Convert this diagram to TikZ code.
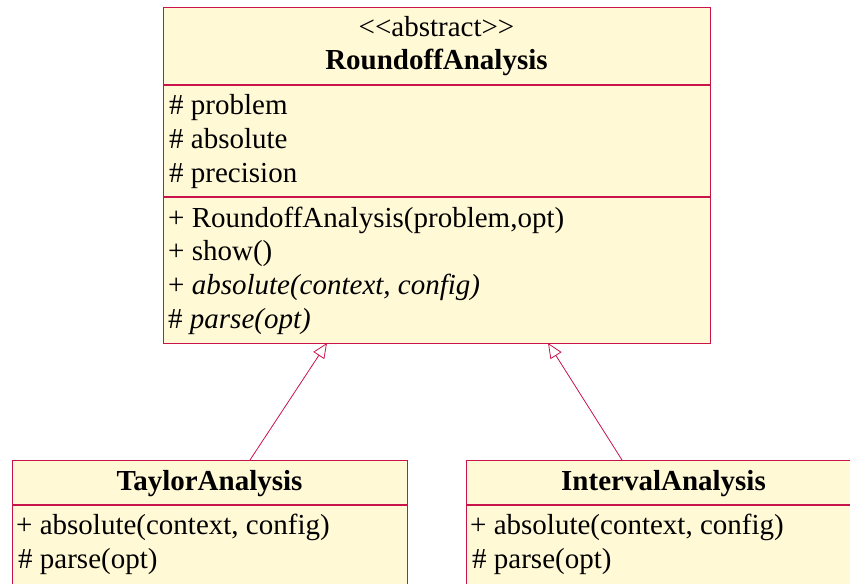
\documentclass[tikz,border=0pt]{standalone}
\usepackage{fontspec}
\setmainfont{Liberation Serif}
\usetikzlibrary{arrows.meta}
\definecolor{umlfill}{RGB}{255,249,214}
\definecolor{umlline}{RGB}{200,20,75}
\newcommand{\umlfont}{\fontsize{29}{34}\selectfont}
\begin{document}
\begin{tikzpicture}[x=1pt,y=-1pt,
  box/.style={draw=umlline,fill=umlfill,line width=1.2pt,inner sep=0pt},
  sep/.style={draw=umlline,line width=1.2pt},
  txt/.style={anchor=base west,inner sep=0pt,font=\umlfont},
  ttl/.style={anchor=base,inner sep=0pt,font=\umlfont},
  inh/.style={draw=umlline,line width=0.8pt,-{Triangle[open,length=15pt,width=13pt]}}
]
\useasboundingbox (0,0) rectangle (850,583);
\clip (0,0) rectangle (850,583);
% abstract class
\node[box,minimum width=547pt,minimum height=336pt,anchor=north west] (abs) at (163,7) {};
\draw[sep] (163,85) -- (710,85);
\draw[sep] (163,197) -- (710,197);
\node[ttl] (st) at (436.5,37) {<{}<abstract>{}>};
\node[ttl] (an) at (436.5,70) {\bfseries RoundoffAnalysis};
\node[txt] (a1) at (169,114) {\# problem};
\node[txt] (a2) at (169,148) {\# absolute};
\node[txt] (a3) at (169,182) {\# precision};
\node[txt] (o1) at (168,227) {+ RoundoffAnalysis(problem,opt)};
\node[txt] (o2) at (168,260) {+ show()};
\node[txt] (o3) at (168,294) {+ \itshape absolute(context, config)};
\node[txt] (o4) at (168,328) {\# \itshape parse(opt)};
% TaylorAnalysis
\node[box,minimum width=395pt,minimum height=160pt,anchor=north west] (tay) at (12,460) {};
\draw[sep] (12,505) -- (407,505);
\node[ttl] (tn) at (209.5,490) {\bfseries TaylorAnalysis};
\node[txt] (t1) at (16,534) {+ absolute(context, config)};
\node[txt] (t2) at (18,568) {\# parse(opt)};
% IntervalAnalysis
\node[box,minimum width=395pt,minimum height=160pt,anchor=north west] (int) at (466,460) {};
\draw[sep] (466,505) -- (861,505);
\node[ttl] (in) at (663.5,490) {\bfseries IntervalAnalysis};
\node[txt] (i1) at (470,534) {+ absolute(context, config)};
\node[txt] (i2) at (472,568) {\# parse(opt)};
% inheritance
\coordinate (ta) at (250,460);
\coordinate (aa) at (327,343);
\coordinate (ib) at (622,460);
\coordinate (ab) at (548,343);
\draw[inh] (ta) -- (aa);
\draw[inh] (ib) -- (ab);
\end{tikzpicture}
\end{document}
